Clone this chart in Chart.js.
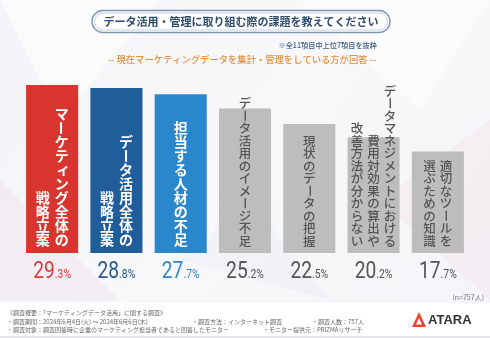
<!DOCTYPE html>
<html lang="ja">
<head>
<meta charset="utf-8">
<title>データ活用・管理に取り組む際の課題</title>
<script src="https://cdn.jsdelivr.net/npm/chart.js@4.4.1/dist/chart.umd.min.js"></script>
<style>
  html, body { margin: 0; padding: 0; background: #f5f6f8; }
  #wrap { width: 490px; height: 338px; position: relative; }
</style>
</head>
<body>
<div id="wrap"><canvas id="chart" width="490" height="338"></canvas></div>
<script>
// 項目（縦書き、右の列から順に）
const categories = [
    ['マーケティング全体の', '戦略立案'],
    ['データ活用全体の', '戦略立案'],
    ['担当する人材の不足'],
    ['データ活用のイメージ不足'],
    ['現状のデータの把握'],
    ['データマネジメントにおける', '費用対効果の算出や', '改善方法が分からない'],
    ['適切なツールを', '選ぶための知識']
];
const values = [29.3, 28.8, 27.7, 25.2, 22.5, 20.2, 17.7];
const sampleNote = '(n=757人)';

const barColors = ['#d8352f', '#1f5d9b', '#2b87cb', '#bdbdbd', '#bdbdbd', '#bdbdbd', '#bdbdbd'];
const valueColors = ['#d63c3c', '#2b5a8c', '#3489c3', '#555555', '#555555', '#555555', '#555555'];

const JP = '"Noto Sans CJK JP", "Noto Sans", sans-serif';

const footerLines = [
    [[7, '《調査概要：「マーケティングデータ活用」に関する調査》']],
    [[7, '・調査期間：2024年6月4日(火) ～ 2024年6月6日(木)'], [192, '・調査方法：インターネット調査'], [312, '・調査人数：757人']],
    [[7, '・調査対象：調査回答時に企業のマーケティング担当者であると回答したモニター'], [263, '・モニター提供元：PRIZMAリサーチ']]
];

const smallKana = 'ァィゥェォッャュョぁぃぅぇぉっゃゅょ';

// 縦書き1列を下揃えで描く
function drawColumn(ctx, text, cx, bottom, size) {
    const chars = Array.from(text);
    const top = bottom - chars.length * size;
    chars.forEach((ch, i) => {
        const cy = top + size * (i + 0.5);
        ctx.save();
        ctx.translate(cx, cy);
        if (ch === 'ー' || ch === '～') {
            ctx.rotate(Math.PI / 2);
        } else if (smallKana.includes(ch)) {
            ctx.translate(size * 0.12, -size * 0.12);
        }
        ctx.fillText(ch, 0, 0);
        ctx.restore();
    });
}

const background = {
    id: 'background',
    beforeDraw(chart) {
        const ctx = chart.ctx;
        ctx.save();
        const g = ctx.createLinearGradient(0, 0, 490, 338);
        g.addColorStop(0, '#f3f4f7');
        g.addColorStop(0.5, '#f8f8fa');
        g.addColorStop(1, '#f4f5f8');
        ctx.fillStyle = g;
        ctx.fillRect(0, 0, 490, 338);

        // うっすらとした多角形の模様
        const polys = [
            ['rgba(255,255,255,0.6)', [[0, 0], [160, 0], [60, 120]]],
            ['rgba(238,226,234,0.45)', [[0, 180], [120, 300], [0, 300]]],
            ['rgba(255,255,255,0.55)', [[300, 0], [490, 0], [420, 110]]],
            ['rgba(242,228,236,0.4)', [[380, 200], [490, 120], [490, 300]]],
            ['rgba(230,234,242,0.4)', [[180, 260], [330, 300], [250, 200]]]
        ];
        polys.forEach(([c, pts]) => {
            ctx.fillStyle = c;
            ctx.beginPath();
            pts.forEach(([x, y], i) => i ? ctx.lineTo(x, y) : ctx.moveTo(x, y));
            ctx.closePath();
            ctx.fill();
        });

        // 下部の調査概要エリア
        ctx.fillStyle = '#ffffff';
        ctx.fillRect(0, 303, 490, 34);
        ctx.fillStyle = '#e4e5e9';
        ctx.fillRect(0, 336, 490, 2);
        ctx.restore();
    }
};

const decorations = {
    id: 'decorations',
    afterDatasetsDraw(chart) {
        const ctx = chart.ctx;
        const bars = chart.getDatasetMeta(0).data;
        ctx.save();
        ctx.textAlign = 'center';
        ctx.textBaseline = 'middle';

        // 棒の中の縦書きラベル
        bars.forEach((bar, i) => {
            const cols = categories[i];
            const colored = i < 3;
            const size = colored ? 14 : 12.5;
            const gap = colored ? 19 : 16.5;
            ctx.font = (colored ? '700 ' : '500 ') + size + 'px ' + JP;
            ctx.fillStyle = colored ? '#ffffff' : '#555555';
            const bottom = bar.base - 6;
            cols.forEach((text, c) => {
                const cx = bar.x + ((cols.length - 1) / 2 - c) * gap;
                drawColumn(ctx, text, cx, bottom, size);
            });
        });

        // 棒の下の数値
        bars.forEach((bar, i) => {
            const [intPart, decPart] = values[i].toFixed(1).split('.');
            const big = intPart;
            const small = '.' + decPart + '%';
            const sx = 0.8;
            ctx.save();
            ctx.textAlign = 'left';
            ctx.textBaseline = 'alphabetic';
            ctx.font = '400 24px Roboto';
            const wb = ctx.measureText(big).width * sx;
            ctx.font = '400 13px Roboto';
            const ws = ctx.measureText(small).width * sx;
            const x0 = bar.x - (wb + ws) / 2;
            ctx.fillStyle = valueColors[i];
            ctx.translate(x0, 278);
            ctx.scale(sx, 1);
            ctx.font = '400 24px Roboto';
            ctx.fillText(big, 0, 0);
            ctx.font = '400 13px Roboto';
            ctx.fillText(small, wb / sx, 0);
            ctx.restore();
        });

        // タイトル枠
        ctx.save();
        ctx.fillStyle = '#ffffff';
        ctx.strokeStyle = '#7f97b1';
        ctx.lineWidth = 1.4;
        ctx.beginPath();
        ctx.roundRect(92, 10.5, 298, 22, 11);
        ctx.fill();
        ctx.stroke();
        ctx.strokeStyle = '#b3c3d4';
        ctx.lineWidth = 0.8;
        ctx.beginPath();
        ctx.roundRect(94.5, 13, 293, 17, 8.5);
        ctx.stroke();
        ctx.fillStyle = '#2f4c6c';
        ctx.font = '700 11px ' + JP;
        ctx.textAlign = 'center';
        ctx.textBaseline = 'middle';
        ctx.fillText('データ活用・管理に取り組む際の課題を教えてください', 241, 21.5);
        ctx.restore();

        ctx.fillStyle = '#3d5c82';
        ctx.font = '500 7.2px ' + JP;
        ctx.textAlign = 'right';
        ctx.fillText('※全11項目中上位7項目を抜粋', 377, 45);

        ctx.fillStyle = '#e2913f';
        ctx.font = '500 9.3px ' + JP;
        ctx.textAlign = 'center';
        ctx.fillText('-- 現在マーケティングデータを集計・管理をしている方が回答 --', 242, 59);

        ctx.fillStyle = '#777777';
        ctx.font = '400 7px ' + JP;
        ctx.textAlign = 'right';
        ctx.fillText(sampleNote, 484, 297);

        // 調査概要
        ctx.fillStyle = '#666666';
        ctx.font = '400 6px ' + JP;
        ctx.textAlign = 'left';
        footerLines.forEach((line, r) => {
            line.forEach(([x, t]) => ctx.fillText(t, x, 313 + r * 8.5));
        });

        // ロゴ
        ctx.fillStyle = '#e5482b';
        ctx.beginPath();
        ctx.moveTo(419, 312);
        ctx.lineTo(426, 327);
        ctx.lineTo(412, 327);
        ctx.closePath();
        ctx.fill();
        ctx.fillStyle = '#ffffff';
        ctx.beginPath();
        ctx.moveTo(419, 318);
        ctx.lineTo(422, 324.5);
        ctx.lineTo(416, 324.5);
        ctx.closePath();
        ctx.fill();
        ctx.fillStyle = '#333333';
        ctx.font = '700 13px "Liberation Sans", Arial, sans-serif';
        ctx.textAlign = 'left';
        ctx.fillText('ATARA', 428, 320.5);

        ctx.restore();
    }
};

new Chart(document.getElementById('chart'), {
    type: 'bar',
    data: {
        labels: categories.map(c => c.join('')),
        datasets: [{
            data: values,
            backgroundColor: barColors,
            borderWidth: 0,
            barPercentage: 0.81,
            categoryPercentage: 1
        }]
    },
    options: {
        responsive: false,
        animation: false,
        devicePixelRatio: 1,
        layout: { padding: { top: 81, bottom: 85, left: 20, right: 20 } },
        plugins: { legend: { display: false }, tooltip: { enabled: false } },
        scales: {
            x: { display: false },
            y: { display: false, min: 0, max: 30 }
        }
    },
    plugins: [background, decorations]
});
</script>
</body>
</html>
